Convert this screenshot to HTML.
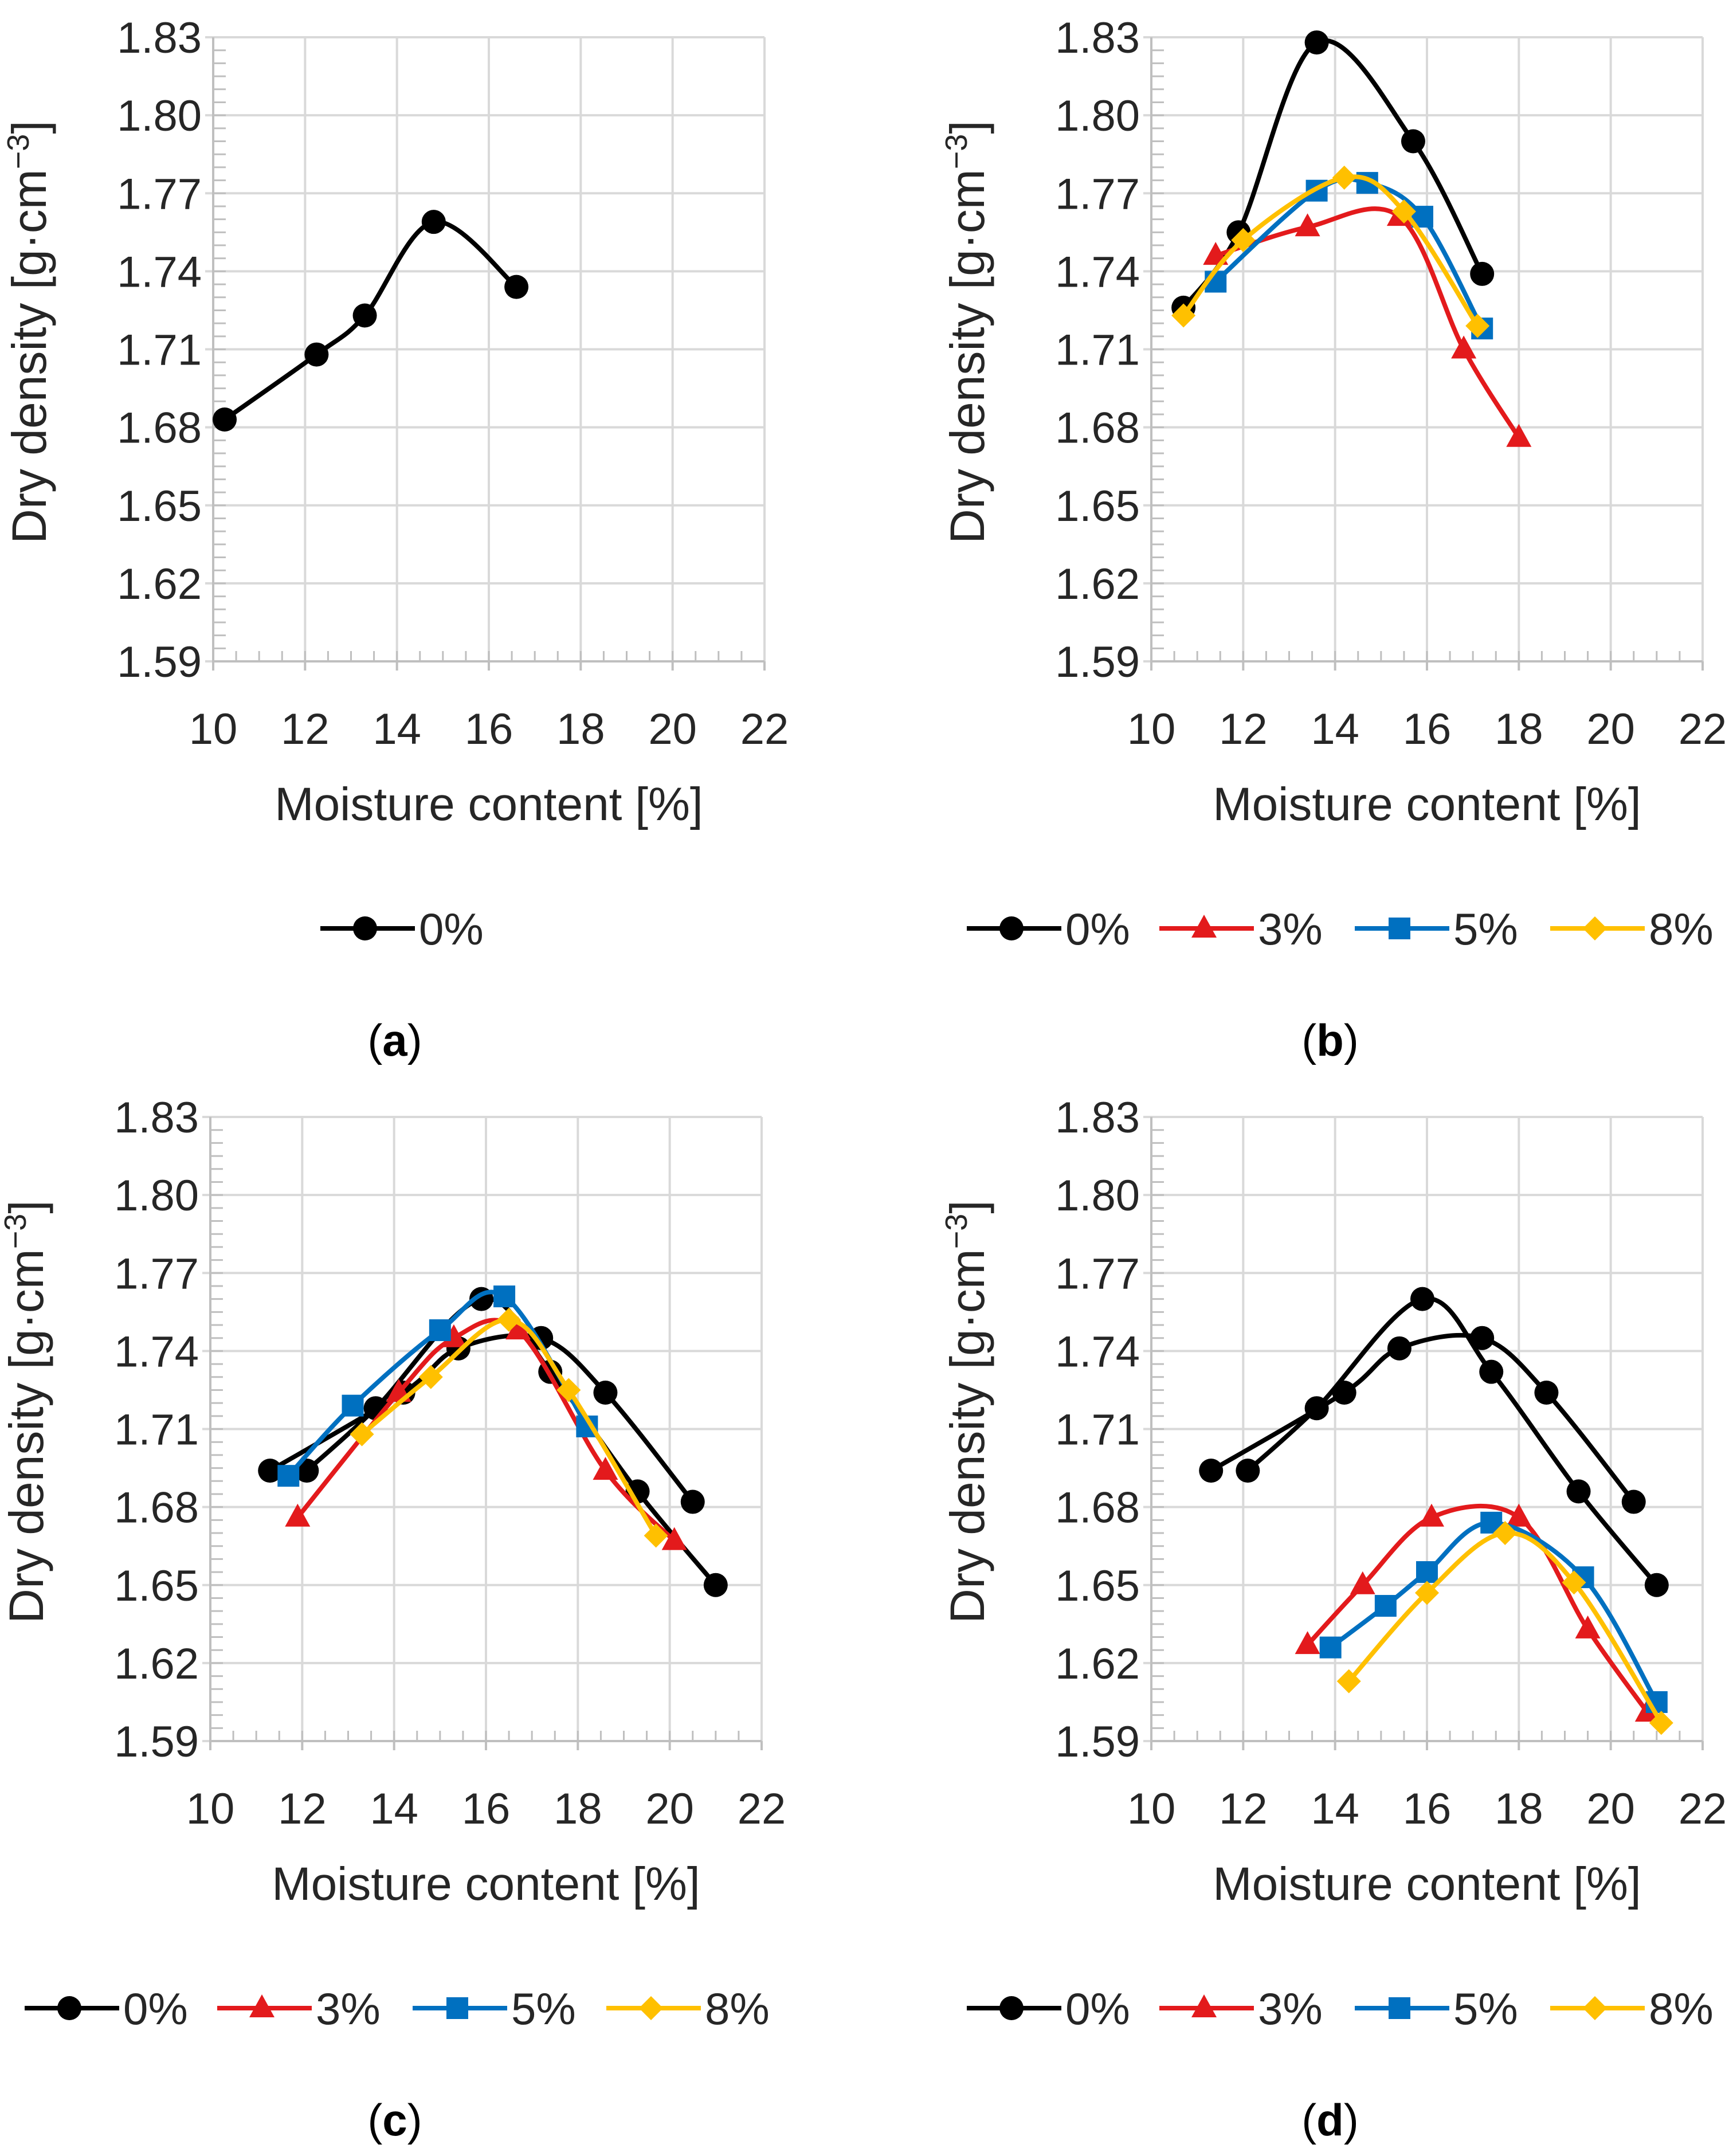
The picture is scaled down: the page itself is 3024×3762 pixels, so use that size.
<!DOCTYPE html>
<html><head><meta charset="utf-8"><style>
html,body{margin:0;padding:0;background:#fff;}
svg{display:block;}
text{font-family:"Liberation Sans",sans-serif;}
</style></head><body>
<svg id="fig" width="3024" height="3762" viewBox="0 0 3024 3762" xmlns="http://www.w3.org/2000/svg"></svg>
<script>
const xTicks=[10,12,14,16,18,20,22];
const yTicks=[1.59,1.62,1.65,1.68,1.71,1.74,1.77,1.80,1.83];
const yTickLabels=["1.59","1.62","1.65","1.68","1.71","1.74","1.77","1.80","1.83"];
// panel a
const a0x=[10.25,12.25,13.3,14.8,16.6];
const a0y=[1.683,1.708,1.723,1.759,1.734];
// panel b
const b0x=[10.7,11.9,13.6,15.7,17.2];
const b0y=[1.726,1.755,1.828,1.790,1.739];
const b3x=[11.4,13.4,15.4,16.8,18.0];
const b3y=[1.746,1.757,1.761,1.710,1.676];
const b5x=[11.4,13.6,14.7,15.9,17.2];
const b5y=[1.736,1.771,1.774,1.761,1.718];
const b8x=[10.7,12.0,14.2,15.5,17.1];
const b8y=[1.723,1.752,1.776,1.763,1.719];
// panel c & d black (two curves)
const k1x=[11.3,14.2,15.4,17.2,18.6,20.5];
const k1y=[1.694,1.724,1.741,1.745,1.724,1.682];
const k2x=[12.1,13.6,15.9,17.4,19.3,21.0];
const k2y=[1.694,1.718,1.760,1.732,1.686,1.650];
// panel c
const c3x=[11.9,14.1,15.3,16.7,18.6,20.1];
const c3y=[1.676,1.724,1.745,1.748,1.694,1.667];
const c5x=[11.7,13.1,15.0,16.4,18.2];
const c5y=[1.692,1.719,1.748,1.761,1.711];
const c8x=[13.3,14.8,16.5,17.8,19.7];
const c8y=[1.708,1.730,1.752,1.725,1.669];
// panel d
const d3x=[13.4,14.6,16.1,18.0,19.5,20.8];
const d3y=[1.627,1.650,1.676,1.676,1.633,1.601];
const d5x=[13.9,15.1,16.0,17.4,19.4,21.0];
const d5y=[1.626,1.642,1.655,1.674,1.653,1.605];
const d8x=[14.3,16.0,17.7,19.2,21.1];
const d8y=[1.613,1.647,1.670,1.651,1.597];

const NS="http://www.w3.org/2000/svg";
const svg=document.getElementById('fig');
const COL={k:"#000000",r:"#e31a1c",b:"#0070c0",y:"#ffc000"};
function mk(tag,attrs,parent){const e=document.createElementNS(NS,tag);for(const k in attrs)e.setAttribute(k,attrs[k]);(parent||svg).appendChild(e);return e;}

function marker(g,type,cx,cy,color){
  let e;
  if(type==='circle'){e=mk('circle',{cx:cx,cy:cy,r:21,fill:color},g);}
  else if(type==='tri'){e=mk('polygon',{points:`${cx},${cy-24} ${cx+22},${cy+16} ${cx-22},${cy+16}`,fill:color},g);}
  else if(type==='sq'){e=mk('rect',{x:cx-19,y:cy-19,width:38,height:38,fill:color},g);}
  else {e=mk('polygon',{points:`${cx},${cy-21} ${cx+21},${cy} ${cx},${cy+21} ${cx-21},${cy}`,fill:color},g);}
  return e;
}
function spline(pts){
  let d=`M${pts[0][0]},${pts[0][1]}`;
  for(let i=0;i<pts.length-1;i++){
    const p0=pts[i-1]||pts[i],p1=pts[i],p2=pts[i+1],p3=pts[i+2]||p2;
    const t=0.5/3;
    const c1=[p1[0]+(p2[0]-p0[0])*t,p1[1]+(p2[1]-p0[1])*t];
    const c2=[p2[0]-(p3[0]-p1[0])*t,p2[1]-(p3[1]-p1[1])*t];
    d+=` C${c1[0]},${c1[1]} ${c2[0]},${c2[1]} ${p2[0]},${p2[1]}`;
  }
  return d;
}
function panel(id,L,T,series,legendXs,capX,capLabel){
  const R=L+962,B=T+1089;
  const sx=v=>L+(v-10)/12*(R-L);
  const sy=v=>B-(v-1.59)/0.24*(B-T);
  const g=mk('g',{});
  
  
  xTicks.forEach(v=>{const l=mk('line',{x1:sx(v),x2:sx(v),y1:T,y2:B,stroke:'#d9d9d9','stroke-width':4},g);
    });
  yTicks.forEach(v=>{const l=mk('line',{x1:L-14,x2:R,y1:sy(v),y2:sy(v),stroke:'#d9d9d9','stroke-width':4},g);
    });
  for(let v=10.5;v<22;v+=0.5){mk('line',{x1:sx(v),x2:sx(v),y1:B,y2:B-18,stroke:'#bfbfbf','stroke-width':3},g);}
  for(let k=1;k<48;k++){const v=1.59+k*0.005;mk('line',{x1:L,x2:L+22,y1:sy(v),y2:sy(v),stroke:'#bfbfbf','stroke-width':3},g);}
  xTicks.forEach(v=>mk('line',{x1:sx(v),x2:sx(v),y1:B,y2:B+16,stroke:'#bfbfbf','stroke-width':4},g));
  mk('line',{x1:L,x2:L,y1:T,y2:B,stroke:'#bfbfbf','stroke-width':4},g);
  mk('line',{x1:L,x2:R,y1:B,y2:B,stroke:'#bfbfbf','stroke-width':4},g);
  yTicks.forEach((v,i)=>{const t=mk('text',{x:L-20,y:sy(v)+27,'font-size':76,'text-anchor':'end',fill:'#262626'},g);t.textContent=yTickLabels[i];
    });
  xTicks.forEach(v=>{const t=mk('text',{x:sx(v),y:B+144,'font-size':76,'text-anchor':'middle',fill:'#262626'},g);t.textContent=String(v);
    });
  const xt=mk('text',{x:(L+R)/2,y:B+277,'font-size':82,'text-anchor':'middle',fill:'#262626'},g);
  xt.textContent='Moisture content [%]';
  
  const yt=mk('text',{x:0,y:0,'font-size':84,'text-anchor':'middle',fill:'#262626',transform:`translate(${L-292},${(T+B)/2-30}) rotate(-90)`},g);
  yt.innerHTML='Dry density [g·cm<tspan dy="-30" font-size="54">−3</tspan><tspan dy="30">]</tspan>';
  
  series.forEach(s=>{
    const sg=mk('g',{},g);
    
    
    const pts=s.x.map((v,i)=>[sx(v),sy(s.y[i])]);
    mk('path',{d:spline(pts),fill:'none',stroke:s.c,'stroke-width':8,'stroke-linejoin':'round'},sg);
    pts.forEach(p=>{const m=marker(sg,s.m,p[0],p[1],s.c);
      });
  });
  const ly=B+466;
  const seen={};
  let li=0;
  series.forEach(s=>{ if(seen[s.label])return; seen[s.label]=1;
    const x0=legendXs[li++];
    const lg=mk('g',{},g);
    
    
    mk('line',{x1:x0,x2:x0+165,y1:ly,y2:ly,stroke:s.c,'stroke-width':8},lg);
    marker(lg,s.m,x0+78,ly,s.c);
    const t=mk('text',{x:x0+172,y:ly+28,'font-size':78,fill:'#262626'},lg);t.textContent=s.label;
  });
  const cap=mk('text',{x:capX,y:B+688,'font-size':78,'text-anchor':'middle',fill:'#000','font-family':'Liberation Serif, serif'},g);
  cap.innerHTML=`(<tspan font-weight="bold">${capLabel}</tspan>)`;
  
}
const S=(name,x,y,c,m,label)=>({name,x,y,c,m,label});
const LX_b=[1687,2023,2364,2705];
const LX_c=[43,379,720,1058];
panel('a',372,65,[S('0pct',a0x,a0y,COL.k,'circle','0%')],[559],689,'a');
panel('b',2009,65,[S('0pct',b0x,b0y,COL.k,'circle','0%'),S('3pct',b3x,b3y,COL.r,'tri','3%'),S('5pct',b5x,b5y,COL.b,'sq','5%'),S('8pct',b8x,b8y,COL.y,'dia','8%')],LX_b,2321,'b');
panel('c',367,1949,[S('0pct-a',k1x,k1y,COL.k,'circle','0%'),S('0pct-b',k2x,k2y,COL.k,'circle','0%'),S('3pct',c3x,c3y,COL.r,'tri','3%'),S('5pct',c5x,c5y,COL.b,'sq','5%'),S('8pct',c8x,c8y,COL.y,'dia','8%')],LX_c,689,'c');
panel('d',2009,1949,[S('0pct-a',k1x,k1y,COL.k,'circle','0%'),S('0pct-b',k2x,k2y,COL.k,'circle','0%'),S('3pct',d3x,d3y,COL.r,'tri','3%'),S('5pct',d5x,d5y,COL.b,'sq','5%'),S('8pct',d8x,d8y,COL.y,'dia','8%')],LX_b,2321,'d');
</script>
</body></html>
